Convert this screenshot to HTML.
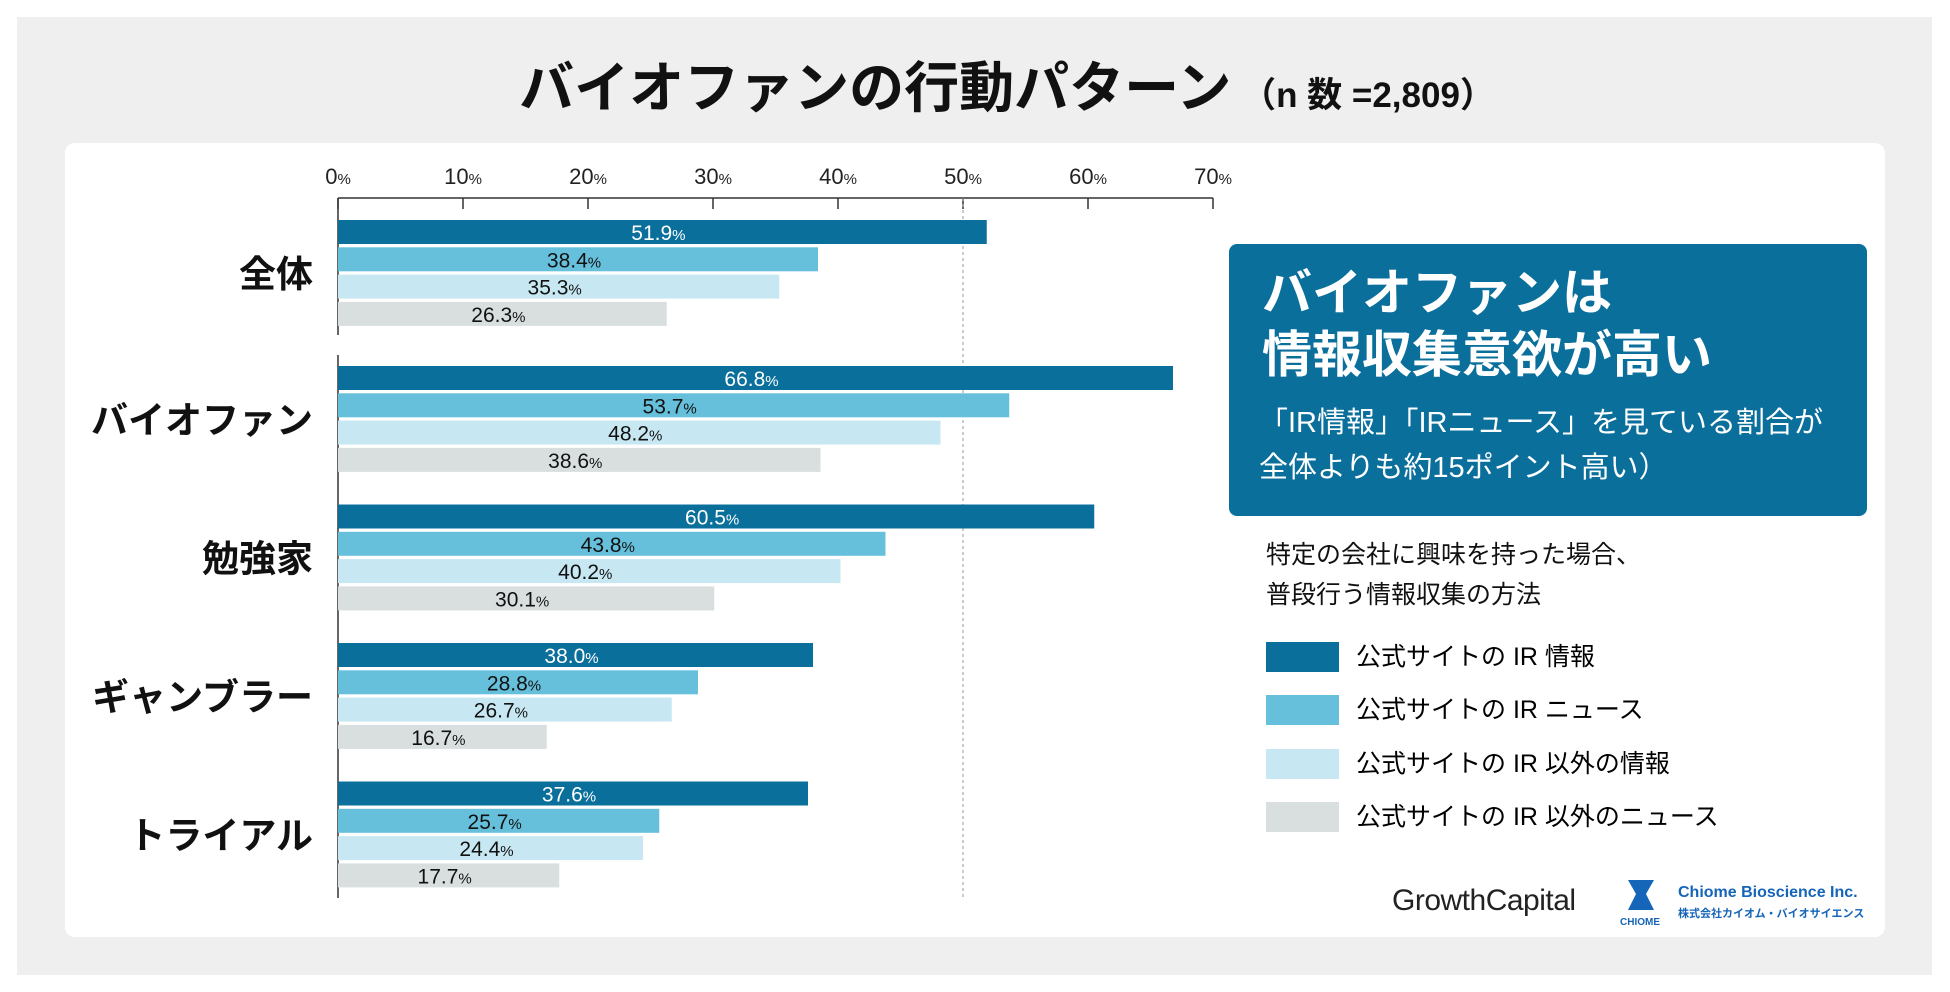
<!DOCTYPE html>
<html><head><meta charset="utf-8"><style>
body{margin:0;width:1950px;height:992px;background:#fff;position:relative;overflow:hidden;font-family:"Liberation Sans","Noto Sans CJK JP",sans-serif}
.abs{position:absolute}
</style></head><body>
<div class="abs" style="left:17px;top:17px;width:1915px;height:958px;background:#efefef"></div>
<div class="abs" style="left:32px;top:56px;width:1950px;text-align:center;font-weight:bold;font-size:55px;line-height:64px;color:#111">バイオファンの行動パターン<span style="font-size:35px;font-weight:bold"> （n 数 =2,809）</span></div>
<div class="abs" style="left:65px;top:143px;width:1820px;height:794px;background:#fff;border-radius:10px"></div>
<svg class="abs" id="chart" style="left:0;top:0" width="1950" height="992"></svg>
<div class="abs" style="left:1229px;top:244px;width:638px;height:272px;background:#0b6f9c;border-radius:8px;color:#fff">
 <div style="position:absolute;left:33px;top:18px;font-size:50px;font-weight:bold;line-height:62px">バイオファンは<br>情報収集意欲が高い</div>
 <div style="position:absolute;left:30px;top:157px;font-size:29px;line-height:45px">「IR情報」「IRニュース」を見ている割合が<br>全体よりも約15ポイント高い）</div>
</div>
<div class="abs" style="left:1266px;top:535px;font-size:25px;line-height:40px;color:#111">特定の会社に興味を持った場合、<br>普段行う情報収集の方法</div>
<div class="abs" style="left:1266px;top:642px">
 <div style="position:absolute;top:0;width:600px;height:30px"><div style="position:absolute;width:73px;height:30px;background:#0b6f9c"></div><span style="position:absolute;left:90px;font-size:25px;line-height:30px">公式サイトの IR 情報</span></div>
 <div style="position:absolute;top:53px;width:600px;height:30px"><div style="position:absolute;width:73px;height:30px;background:#66c0dc"></div><span style="position:absolute;left:90px;font-size:25px;line-height:30px">公式サイトの IR ニュース</span></div>
 <div style="position:absolute;top:107px;width:600px;height:30px"><div style="position:absolute;width:73px;height:30px;background:#c7e8f2"></div><span style="position:absolute;left:90px;font-size:25px;line-height:30px">公式サイトの IR 以外の情報</span></div>
 <div style="position:absolute;top:160px;width:600px;height:30px"><div style="position:absolute;width:73px;height:30px;background:#d9dfdf"></div><span style="position:absolute;left:90px;font-size:25px;line-height:30px">公式サイトの IR 以外のニュース</span></div>
</div>
<div class="abs" style="left:1392px;top:884px;font-size:30px;color:#222;letter-spacing:-0.5px">GrowthCapital</div>
<div class="abs" style="left:1620px;top:880px;width:40px;height:45px">
 <svg width="40" height="32"><polygon points="8,0 34,0 26,14 34,30 8,30 16,14" fill="#1565b8"/></svg>
 <div style="font-size:10px;font-weight:bold;color:#1565b8;text-align:center">CHIOME</div>
</div>
<div class="abs" style="left:1678px;top:884px;color:#1565b8;font-weight:bold">
 <div style="font-size:16px">Chiome Bioscience Inc.</div>
 <div style="font-size:11px;margin-top:3px">株式会社カイオム・バイオサイエンス</div>
</div>
<script>
const categories=["全体","バイオファン","勉強家","ギャンブラー","トライアル"];
const seriesIR=[51.9,66.8,60.5,38.0,37.6];
const seriesNews=[38.4,53.7,43.8,28.8,25.7];
const seriesOther=[35.3,48.2,40.2,26.7,24.4];
const seriesOtherNews=[26.3,38.6,30.1,16.7,17.7];
const tickLabels=["0","10","20","30","40","50","60","70"];
const svg=document.getElementById('chart');
const NS="http://www.w3.org/2000/svg";
const x0=338,pxPer=12.5;
const xs=v=>x0+v*pxPer;
const groupTop=i=>i===0?220:366+(i-1)*138.5;
function mk(t,a){const e=document.createElementNS(NS,t);for(const k in a)e.setAttribute(k,a[k]);svg.appendChild(e);return e;}
const series=[{d:seriesIR,c:"#0b6f9c",t:"#fff"},{d:seriesNews,c:"#66c0dc",t:"#111"},{d:seriesOther,c:"#c7e8f2",t:"#111"},{d:seriesOtherNews,c:"#d9dfdf",t:"#111"}];
tickLabels.forEach((lb,i)=>{
 const v=+lb;
 const tl=mk('line',{x1:xs(v),x2:xs(v),y1:198,y2:209,stroke:'#333','stroke-width':1.5});
 
 
 const t=mk('text',{x:xs(v),y:184,'text-anchor':'middle','font-size':22,fill:'#222'});
 
 
 t.innerHTML=lb+'<tspan font-size="15">%</tspan>';
});
const ax=mk('line',{x1:x0,x2:xs(70),y1:198,y2:198,stroke:'#333','stroke-width':1.5});


const g50=mk('line',{x1:xs(50),x2:xs(50),y1:198,y2:898,stroke:'#999','stroke-width':1,'stroke-dasharray':'3,3'});


const ya=mk('line',{x1:x0,x2:x0,y1:198,y2:335,stroke:'#333','stroke-width':1.5});


const yb=mk('line',{x1:x0,x2:x0,y1:355,y2:898,stroke:'#333','stroke-width':1.5});


categories.forEach((c,i)=>{
 const top=groupTop(i);
 const cl=mk('text',{x:313,y:top+54+13,'text-anchor':'end','font-size':37,'font-weight':'bold',fill:'#111'});
 
 
 cl.textContent=c;
 series.forEach((s,j)=>{
  const y=top+j*27.3,v=s.d[i];
  const r=mk('rect',{x:x0,y:y,width:v*pxPer,height:24,fill:s.c});
  
  
  const t=mk('text',{x:x0+v*pxPer/2-4,y:y+20,'text-anchor':'middle','font-size':21,fill:s.t});
  
  
  t.innerHTML=v.toFixed(1)+'<tspan font-size="15">%</tspan>';
 });
});
</script>
</body></html>
